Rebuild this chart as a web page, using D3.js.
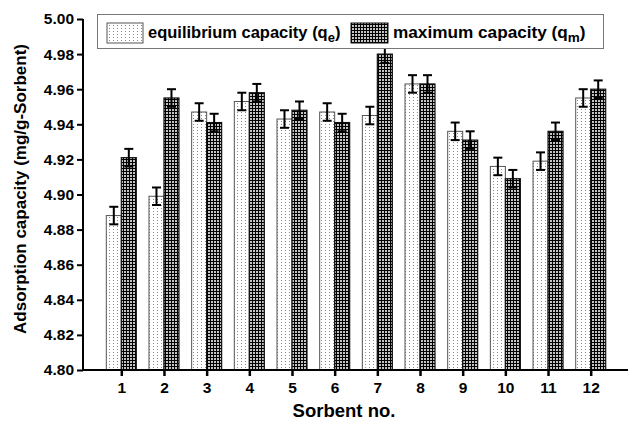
<!DOCTYPE html>
<html>
<head>
<meta charset="utf-8">
<script src="https://cdnjs.cloudflare.com/ajax/libs/d3/7.8.5/d3.min.js"></script>
<style>
body { margin: 0; background: #fff; }
svg { display: block; font-family: "Liberation Sans", Arial, sans-serif; font-weight: bold; }
</style>
</head>
<body>
<svg width="628" height="424"></svg>
<script>
// data
var sorbents = [1, 2, 3, 4, 5, 6, 7, 8, 9, 10, 11, 12]
var qe = [4.888, 4.899, 4.947, 4.953, 4.943, 4.947, 4.945, 4.963, 4.936, 4.916, 4.919, 4.955]
var qm = [4.921, 4.955, 4.941, 4.958, 4.948, 4.941, 4.980, 4.963, 4.931, 4.909, 4.936, 4.960]
var qeErr = [0.005, 0.005, 0.005, 0.005, 0.005, 0.005, 0.005, 0.005, 0.005, 0.005, 0.005, 0.005]
var qmErr = [0.005, 0.005, 0.005, 0.005, 0.005, 0.005, 0.005, 0.005, 0.005, 0.005, 0.005, 0.005]
var yTicks = [4.80, 4.82, 4.84, 4.86, 4.88, 4.90, 4.92, 4.94, 4.96, 4.98, 5.00]

var svg = d3.select('svg')

// patterns
var defs = svg.append('defs')
var pe = defs.append('pattern').attr('id', 'dots')
  .attr('patternUnits', 'userSpaceOnUse').attr('width', 4).attr('height', 3)
pe.append('rect').attr('width', 4).attr('height', 3).attr('fill', '#fff')
pe.append('rect').attr('x', 1).attr('y', 1).attr('width', 1).attr('height', 1).attr('fill', '#8a8a8a')

var pm = defs.append('pattern').attr('id', 'grid')
  .attr('patternUnits', 'userSpaceOnUse').attr('width', 3).attr('height', 3)
pm.append('rect').attr('width', 3).attr('height', 3).attr('fill', '#000')
pm.append('rect').attr('x', 1).attr('y', 1).attr('width', 2).attr('height', 2).attr('fill', '#c4c4c4')

var x = d3.scaleLinear().domain([1, 12]).range([121.3, 590.7])
var y = d3.scaleLinear().domain([4.80, 5.00]).range([370, 19])
var bw = 15

// bars
var g = svg.append('g')
g.selectAll('.qe').data(sorbents).enter().append('rect')
  .attr('x', function(d){ return x(d) - bw })
  .attr('y', function(d, i){ return y(qe[i]) })
  .attr('width', bw)
  .attr('height', function(d, i){ return y(4.80) - y(qe[i]) })
  .attr('fill', 'url(#dots)')
  .attr('stroke', '#555').attr('stroke-width', 1)

g.selectAll('.qm').data(sorbents).enter().append('rect')
  .attr('x', function(d){ return x(d) })
  .attr('y', function(d, i){ return y(qm[i]) })
  .attr('width', bw)
  .attr('height', function(d, i){ return y(4.80) - y(qm[i]) })
  .attr('fill', 'url(#grid)')
  .attr('stroke', '#111').attr('stroke-width', 1.2)

// error bars
function errBars(vals, errs, off){
  var eb = svg.append('g').attr('stroke', '#000').attr('stroke-width', 2)
  sorbents.forEach(function(d, i){
    var cx = x(d) + off
    var top = y(vals[i] + errs[i]), bot = y(vals[i] - errs[i])
    eb.append('line').attr('x1', cx).attr('x2', cx).attr('y1', top).attr('y2', bot)
    eb.append('line').attr('x1', cx - 4.5).attr('x2', cx + 4.5).attr('y1', top).attr('y2', top)
    eb.append('line').attr('x1', cx - 4.5).attr('x2', cx + 4.5).attr('y1', bot).attr('y2', bot)
  })
}
errBars(qe, qeErr, -bw / 2)
errBars(qm, qmErr, bw / 2)

// axes
var yAxis = svg.append('g').attr('transform', 'translate(83,0)')
  .call(d3.axisLeft(y).tickValues(yTicks).tickFormat(d3.format('.2f')).tickSize(6).tickPadding(3))
yAxis.select('.domain').attr('stroke-width', 2).attr('d', 'M0,' + y(5.00) + 'V' + (y(4.80) + 1))
yAxis.selectAll('.tick line').attr('stroke-width', 2)
yAxis.selectAll('text').attr('font-size', 15.5).attr('font-weight', 'bold').attr('fill', '#000')
  .attr('font-family', '"Liberation Sans", Arial, sans-serif')

var xAxis = svg.append('g').attr('transform', 'translate(0,370)')
  .call(d3.axisBottom(x).tickValues(sorbents).tickFormat(d3.format('d')).tickSize(6).tickPadding(6))
xAxis.select('.domain').attr('stroke-width', 2).attr('d', 'M82,0H628')
xAxis.selectAll('.tick line').attr('stroke-width', 2.5)
xAxis.selectAll('text').attr('font-size', 15.5).attr('font-weight', 'bold').attr('fill', '#000')
  .attr('font-family', '"Liberation Sans", Arial, sans-serif')

// axis titles
svg.append('text').attr('x', 344).attr('y', 417).attr('text-anchor', 'middle')
  .attr('font-size', 18.5).text('Sorbent no.')
svg.append('text').attr('transform', 'translate(26,189) rotate(-90)').attr('text-anchor', 'middle')
  .attr('font-size', 17).text('Adsorption capacity (mg/g-Sorbent)')

// legend
var lg = svg.append('g')
lg.append('rect').attr('x', 97.5).attr('y', 14.5).attr('width', 506).attr('height', 34)
  .attr('fill', '#fff').attr('stroke', '#777').attr('stroke-width', 1)
lg.append('rect').attr('x', 107).attr('y', 23).attr('width', 36).attr('height', 20)
  .attr('fill', 'url(#dots)').attr('stroke', '#555')
lg.append('rect').attr('x', 351).attr('y', 23).attr('width', 37).attr('height', 20)
  .attr('fill', 'url(#grid)').attr('stroke', '#111')
var t1 = lg.append('text').attr('x', 148).attr('y', 38).attr('font-size', 16.5)
t1.append('tspan').text('equilibrium capacity (q')
t1.append('tspan').attr('dy', 4).attr('font-size', 13).text('e')
t1.append('tspan').attr('dy', -4).text(')')
var t2 = lg.append('text').attr('x', 393).attr('y', 38).attr('font-size', 17.2)
t2.append('tspan').text('maximum capacity (q')
t2.append('tspan').attr('dy', 4).attr('font-size', 13.5).text('m')
t2.append('tspan').attr('dy', -4).text(')')
</script>
</body>
</html>
